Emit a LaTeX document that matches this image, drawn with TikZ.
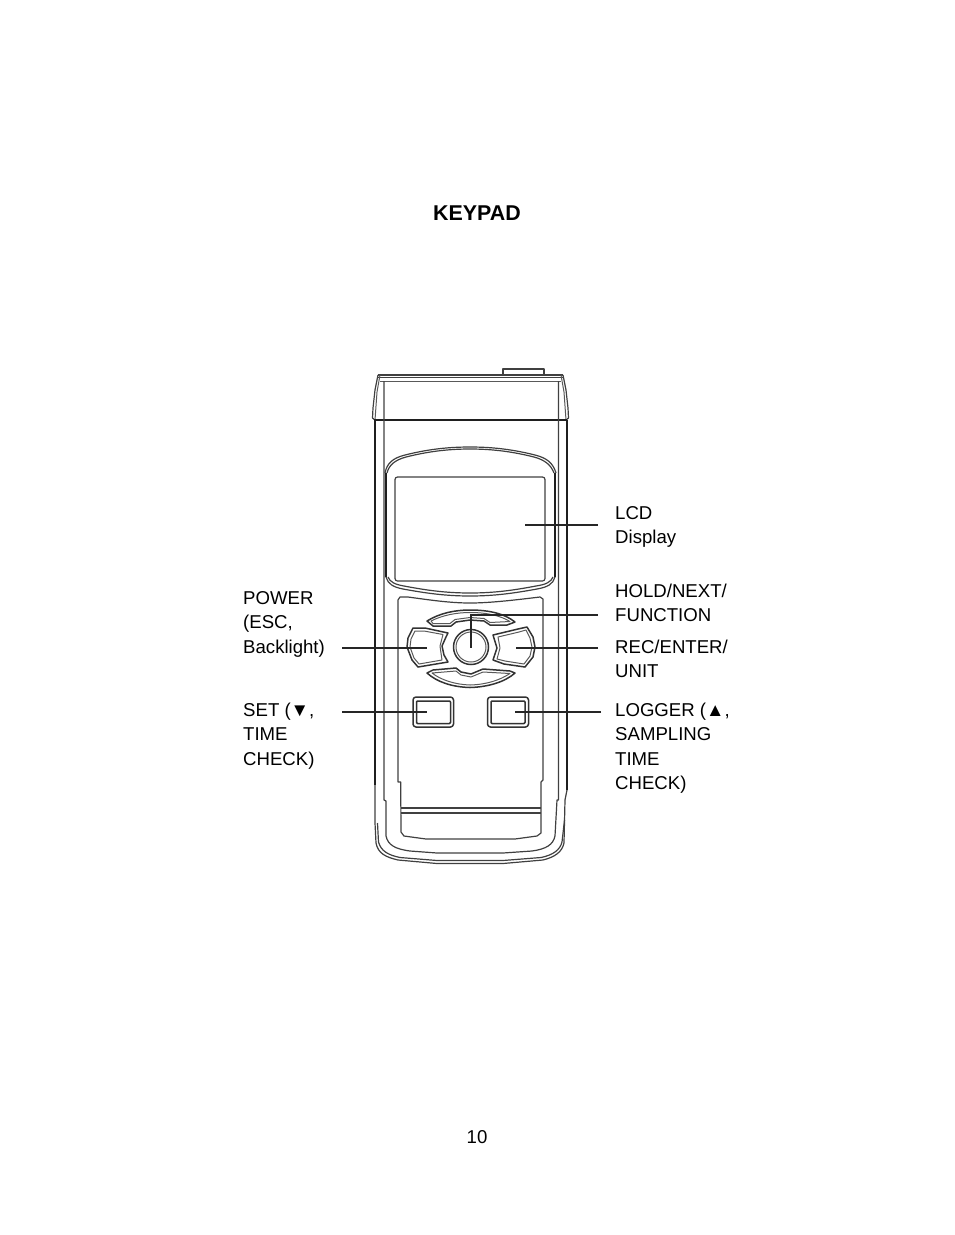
\documentclass[tikz,border=0pt]{standalone}
\usepackage{fontspec}
\setmainfont{Liberation Sans}
\newcommand{\fr}{\rule{0pt}{14pt}}
\tikzset{
  lab/.style={font=\fontsize{18.6}{24.5}\selectfont,align=left,inner sep=0pt,anchor=north west,text=black},
  ttl/.style={font=\fontsize{21.4}{24}\selectfont\bfseries,inner sep=0pt,anchor=base},
  pg/.style={font=\fontsize{18.6}{24}\selectfont,inner sep=0pt,anchor=base},
  ln/.style={draw=black!75,line width=1.2pt,line join=round},
  hv/.style={draw=black!88,line width=2.2pt,line join=round},
  fine/.style={draw=black!65,line width=1pt,line join=round},
  key/.style={draw=black!80,line width=1.5pt,line join=round},
  leader/.style={draw=black!85,line width=1.2pt},
}
\begin{document}
\begin{tikzpicture}[x=1pt,y=-1pt]
\useasboundingbox (0,0) rectangle (954,1235);
\node[ttl] (title) at (477,220) {KEYPAD};
\node[pg] (page) at (477,1143) {10};

% cap
\draw[ln] (503,375) -- (503,369) -- (544,369) -- (544,375);
\draw[ln] (378,375) -- (563,375);
\draw[ln] (378,377.5) -- (563,377.5);
\draw[fine] (380,381) -- (561,381);
\draw[ln] (378,375) -- (375,390) -- (373,408) -- (372.5,418) -- (375,420);
\draw[ln] (563,375) -- (566,390) -- (568,408) -- (568.5,418) -- (566,420);
\draw[fine] (380,375) -- (377,392) -- (375,420);
\draw[fine] (561,375) -- (564,392) -- (566,420);
\draw[hv] (374,420) -- (567,420);

% body, outer
\draw[hv] (375,420) -- (375,785);
\draw[ln] (375,785) -- (375,823) -- (376,843) .. controls (378,853) and (385,857) .. (398,860) -- (437,863.5) -- (503,863.5) -- (543,860) .. controls (555,857) and (562,852) .. (564,843) -- (565,800);
\draw[hv] (567,420) -- (567,790);
\draw[ln] (567,790) -- (565,800);
\draw[ln] (377.5,823) -- (378.5,842) .. controls (381,851) and (388,855) .. (400,857.5) -- (437,860.5) -- (503,860.5) -- (541,857.5) .. controls (553,855) and (560,850) .. (562,842) -- (564.5,820);
% body, inner frame
\draw[ln] (384,381) -- (384,800) -- (386,801) -- (386,836) .. controls (388,845) and (395,849) .. (410,851) -- (437,853) -- (503,853) -- (532,851) .. controls (546,849) and (553,845) .. (555,836) -- (557,800) -- (558.5,800) -- (558.5,381);

% display housing
\draw[ln] (385,473) .. controls (387,463) and (393,458) .. (405,455) .. controls (425,450) and (445,447) .. (470,447) .. controls (495,447) and (515,450) .. (535,455) .. controls (547,458) and (553,463) .. (556,473);
\draw[ln] (387,473) .. controls (389,465) and (395,460) .. (406,457) .. controls (426,452) and (446,449) .. (470,449) .. controls (494,449) and (514,452) .. (534,457) .. controls (545,460) and (551,465) .. (554,473);
\draw[hv] (386,473) -- (386,577);
\draw[hv] (555,473) -- (555,577);
\draw[ln] (386,577) .. controls (388,584) and (393,587) .. (403,589) .. controls (425,593) and (445,596) .. (470,596) .. controls (495,596) and (515,593) .. (537,589) .. controls (548,587) and (553,584) .. (555,577);
\draw[ln] (388,577) .. controls (390,582) and (395,584.500) .. (404,586) .. controls (425,590) and (445,593) .. (470,593) .. controls (495,593) and (515,590) .. (536,586) .. controls (546,584.500) and (551,582) .. (553,577);
% screen
\draw[ln,rounded corners=2.5pt] (395,477) rectangle (545,581);

% keypad panel
\draw[ln] (398,782) -- (398,600) -- (400,597) -- (408,597) .. controls (430,600) and (450,603) .. (470,603) .. controls (490,603) and (515,600) .. (540,597) -- (543,599) -- (543,780) -- (541,782) -- (541,833) -- (537,836) -- (515,839) -- (426,839) -- (404,836) -- (401,832) -- (400.700,782) -- cycle;
\draw[ln] (400.700,808) -- (541,808);
\draw[ln] (400.700,813) -- (541,813);

% top crescent
\draw[key] (427,621) .. controls (440,613) and (455,610) .. (470,610) .. controls (490,610) and (505,614) .. (515,622) -- (507,625) -- (490,625) -- (484,621) -- (470,620) -- (456,622) -- (451,626) -- (433,626) -- cycle;
\draw[fine] (431,621) .. controls (443,615) and (457,612.500) .. (470,612.500) .. controls (488,612.500) and (501,616) .. (510,621.500) -- (490,622.500) -- (484,618.500) -- (470,617.500) -- (455,619.500) -- (450,623.500) -- (433,623.500) -- cycle;
% bottom crescent
\draw[key] (427,673) -- (433,670) -- (456,668) -- (461,672) -- (471,674) -- (483,669) -- (510,671) -- (515,673) .. controls (505,682) and (488,687) .. (470,687.500) .. controls (452,687) and (437,682) .. (427,673) -- cycle;
\draw[fine] (432,673) -- (456,671) -- (461,675) -- (471,677) -- (483,672) -- (510,673.500) .. controls (500,680) and (487,684.500) .. (470,685) .. controls (455,684.500) and (441,680) .. (432,673) -- cycle;
% centre button
\draw[key] (471,647) circle [radius=17.5];
\draw[fine] (471,647) circle [radius=15];
% left button
\draw[key] (413,628) -- (425,628) -- (448,633) -- (446,637) -- (442,646) -- (444,655) -- (448,662) -- (418,667) -- (412,660) -- (407,647) -- (408,638) -- cycle;
\draw[fine] (415,631) -- (424,631) -- (443,634.500) -- (440,646) -- (442,660) -- (419,664) -- (414,658) -- (410,647) -- (411,639) -- cycle;
% right button
\draw[key] (493,635) -- (518,629) -- (527,627) -- (533,637) -- (535,647) -- (533,657) -- (525,667) -- (504,664) -- (493,660) -- (497,648) -- cycle;
\draw[fine] (498,637) -- (519,632) -- (526,630) -- (530,638) -- (532,647) -- (530,656) -- (524,664) -- (505,661) -- (497,659) -- (500,648) -- cycle;
% square buttons
\draw[key,rounded corners=3pt] (413,697) rectangle (453.500,727);
\draw[key,rounded corners=1pt] (416.500,701) rectangle (450.500,723.500);
\draw[key,rounded corners=3pt] (487.500,697) rectangle (528.500,727);
\draw[key,rounded corners=1pt] (491,701) rectangle (525,723.500);

% labels
\node[lab] (lcd) at (615,505) {\fr LCD\\Display};
\node[lab] (hold) at (615,583) {\fr HOLD/NEXT/\\FUNCTION};
\node[lab] (rec) at (615,639) {\fr REC/ENTER/\\UNIT};
\node[lab] (logger) at (615,702) {\fr LOGGER (▲,\\SAMPLING\\TIME\\CHECK)};
\node[lab] (power) at (243,590) {\fr POWER\\(ESC,\\Backlight)};
\node[lab] (set) at (243,702) {\fr SET (▼,\\TIME\\CHECK)};

% leaders
\coordinate (lcdA) at (598,525); \coordinate (lcdB) at (525,525);
\coordinate (holdA) at (598,615); \coordinate (holdB) at (471,615); \coordinate (holdC) at (471,648);
\coordinate (recA) at (598,648); \coordinate (recB) at (516,648);
\coordinate (logA) at (601,712); \coordinate (logB) at (515,712);
\coordinate (powA) at (342,648); \coordinate (powB) at (427,648);
\coordinate (setA) at (342,712); \coordinate (setB) at (427,712);
\draw[leader] (lcdA) -- (lcdB);
\draw[leader] (holdA) -- (holdB) -- (holdC);
\draw[leader] (recA) -- (recB);
\draw[leader] (logA) -- (logB);
\draw[leader] (powA) -- (powB);
\draw[leader] (setA) -- (setB);
\end{tikzpicture}
\end{document}
